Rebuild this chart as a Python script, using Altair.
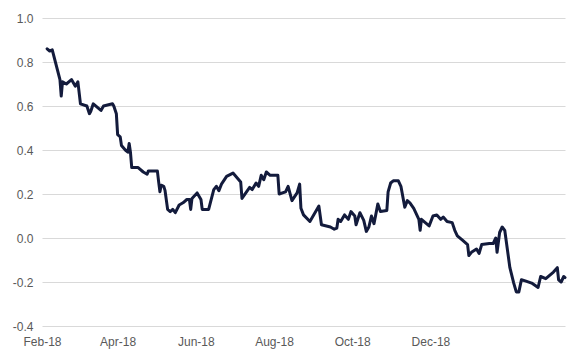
import altair as alt
import pandas as pd

start_date = "2018-02-01"

day_offsets = [
    4, 6, 8, 14, 15, 16, 19, 23, 26, 28,
    29, 30, 35, 37, 38, 40, 43, 46, 48, 55,
    56, 58, 59, 61, 62, 65, 67, 68, 69, 70,
    75, 79, 82, 83, 90, 91, 92, 93, 95, 96,
    98, 100, 102, 104, 107, 110, 113, 115, 116, 117,
    121, 124, 125, 130, 134, 136, 138, 140, 144, 149,
    152, 155, 156, 159, 162, 164, 167, 169, 171, 173,
    175, 178, 184, 185, 190, 192, 195, 199, 201, 202,
    204, 209, 216, 218, 225, 228, 230, 231, 233, 236,
    239, 241, 244, 245, 248, 251, 253, 255, 257, 259,
    262, 264, 269, 270, 272, 274, 278, 280, 283, 285,
    287, 290, 294, 295, 296, 302, 305, 308, 311, 313,
    316, 320, 322, 324, 328, 332, 333, 335, 339, 341,
    343, 349, 352, 354, 355, 357, 359, 361, 365, 368,
    370, 372, 374, 377, 382, 387, 389, 393, 399, 402,
    403, 405, 407, 408,
]

values = [
    0.86, 0.85, 0.855, 0.72, 0.645, 0.71, 0.70, 0.72, 0.69, 0.71,
    0.66, 0.61, 0.60, 0.565, 0.575, 0.61, 0.595, 0.58, 0.60, 0.61,
    0.60, 0.565, 0.47, 0.46, 0.42, 0.40, 0.39, 0.43, 0.39, 0.32,
    0.32, 0.30, 0.29, 0.305, 0.305, 0.255, 0.21, 0.24, 0.235, 0.215,
    0.13, 0.12, 0.13, 0.115, 0.15, 0.16, 0.175, 0.175, 0.13, 0.18,
    0.205, 0.175, 0.13, 0.13, 0.22, 0.235, 0.215, 0.245, 0.28, 0.295,
    0.275, 0.255, 0.18, 0.205, 0.23, 0.22, 0.25, 0.235, 0.285, 0.265,
    0.30, 0.285, 0.285, 0.20, 0.21, 0.235, 0.17, 0.205, 0.245, 0.135,
    0.105, 0.075, 0.145, 0.06, 0.05, 0.04, 0.045, 0.085, 0.075, 0.105,
    0.085, 0.12, 0.10, 0.06, 0.115, 0.08, 0.03, 0.05, 0.10, 0.065,
    0.155, 0.12, 0.125, 0.21, 0.25, 0.26, 0.26, 0.235, 0.14, 0.17,
    0.16, 0.135, 0.085, 0.035, 0.085, 0.055, 0.10, 0.105, 0.085, 0.095,
    0.075, 0.07, 0.035, 0.01, -0.01, -0.03, -0.08, -0.065, -0.05, -0.07,
    -0.03, -0.025, -0.025, 0.0, -0.065, 0.025, 0.05, 0.035, -0.135, -0.205,
    -0.245, -0.245, -0.19, -0.195, -0.205, -0.225, -0.175, -0.185, -0.155, -0.135,
    -0.19, -0.20, -0.175, -0.18,
]

tick_months = [(2018, 2), (2018, 4), (2018, 6), (2018, 8), (2018, 10), (2018, 12)]
y_ticks = [-0.4, -0.2, 0.0, 0.2, 0.4, 0.6, 0.8, 1.0]

assert len(day_offsets) == len(values)

df = pd.DataFrame({
    "date": pd.Timestamp(start_date) + pd.to_timedelta(day_offsets, unit="D"),
    "value": values,
})

FONT = "Liberation Sans"
LABEL_COLOR = "#595959"

chart = (
    alt.Chart(df)
    .mark_line(color="#131b3c", strokeWidth=3, strokeJoin="round", strokeCap="round")
    .encode(
        x=alt.X(
            "date:T",
            scale=alt.Scale(domain=[
                alt.DateTime(year=2018, month=2, date=1),
                alt.DateTime(year=2019, month=3, date=16),
            ]),
            axis=alt.Axis(
                values=[alt.DateTime(year=y, month=m, date=1) for y, m in tick_months],
                format="%b-%y",
                title=None,
                grid=False,
                domain=False,
                ticks=False,
                labelFlush=False,
                labelOverlap=False,
                labelPadding=10,
                labelFontSize=12,
                labelFont=FONT,
                labelColor=LABEL_COLOR,
            ),
        ),
        y=alt.Y(
            "value:Q",
            scale=alt.Scale(domain=[-0.4, 1.0], nice=False, zero=False),
            axis=alt.Axis(
                values=y_ticks,
                labelExpr="(datum.value < 0 ? '-' : '') + format(abs(datum.value), '.1f')",
                title=None,
                domain=False,
                ticks=False,
                grid=True,
                gridColor="#d9d9d9",
                gridWidth=1,
                labelPadding=9,
                labelFontSize=12,
                labelFont=FONT,
                labelColor=LABEL_COLOR,
            ),
        ),
    )
    .properties(
        width=523,
        height=308,
        autosize="none",
        padding={"left": 34, "top": 10, "right": 2, "bottom": 30},
    )
    .configure_view(stroke=None)
)

chart.save("out.html", embed_options={"renderer": "svg", "actions": False})
